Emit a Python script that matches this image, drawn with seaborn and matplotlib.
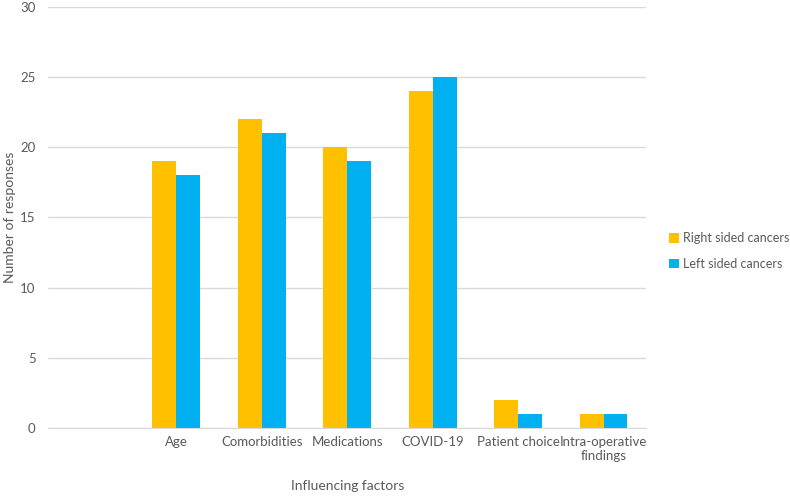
import numpy as np
import pandas as pd
import matplotlib.pyplot as plt
import seaborn as sns

# Values
factors = ["", "Age", "Comorbidities", "Medications", "COVID-19",
           "Patient choice", "Intra-operative\nfindings"]
right_sided = [19, 22, 20, 24, 2, 1]
left_sided = [18, 21, 19, 25, 1, 1]
series = ["Right sided cancers", "Left sided cancers"]
colors = ["#FFC000", "#00B0F0"]

df = pd.DataFrame({
    "factor": factors[1:] * 2,
    "count": right_sided + left_sided,
    "series": [series[0]] * len(right_sided) + [series[1]] * len(left_sided),
})

sns.set_style("white")
plt.rcParams["font.family"] = ["Lato", "DejaVu Sans"]
text_col = "#595959"

fig = plt.figure(figsize=(7.9, 4.96), dpi=100)
ax = fig.add_axes([0.061, 0.137, 0.757, 0.849])

sns.barplot(data=df, x="factor", y="count", hue="series", order=factors,
            hue_order=series, palette=colors, width=0.56, gap=0,
            saturation=1, linewidth=0, ax=ax)

ax.set_ylim(0, 30)
ax.set_yticks(range(0, 31, 5))
ax.set_xlim(-0.5, len(factors) - 0.5)
ax.yaxis.grid(True, color="#D9D9D9", linewidth=1)
ax.set_axisbelow(True)
for s in ["top", "right", "left"]:
    ax.spines[s].set_visible(False)
ax.spines["bottom"].set_color("#D9D9D9")
ax.tick_params(axis="both", length=0, labelsize=9.5, colors=text_col, pad=9)
ax.tick_params(axis="x", pad=6)
ax.set_xlabel("Influencing factors", fontsize=10, color=text_col, labelpad=13)
ax.set_ylabel("Number of responses", fontsize=10, color=text_col)
ax.yaxis.set_label_coords(-0.053, 0.5)

leg = ax.legend(loc="center left", bbox_to_anchor=(1.02, 0.42), frameon=False,
                fontsize=9, handlelength=0.8, handleheight=0.8,
                handletextpad=0.3, labelspacing=1.1)
for t in leg.get_texts():
    t.set_color(text_col)

fig.savefig("out.png", dpi=100)
